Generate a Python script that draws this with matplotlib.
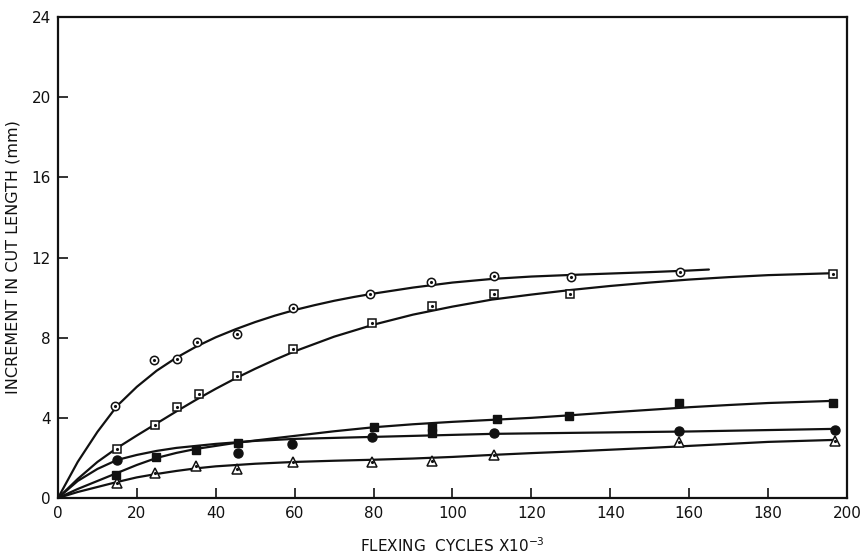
import matplotlib
matplotlib.use("Agg")
import matplotlib.pyplot as plt

# measured points (flexing cycles x10^-3, increment in cut length mm)
circ_x = [14.5, 24.4, 30.1, 35.3, 45.5, 59.7, 79.0, 94.6, 110.5, 130.0, 157.7]
circ_y = [4.6, 6.87, 6.93, 7.77, 8.18, 9.47, 10.2, 10.8, 11.1, 11.05, 11.3]

sq_x = [15.0, 24.5, 30.2, 35.8, 45.4, 59.5, 79.6, 94.8, 110.4, 129.8, 196.5]
sq_y = [2.45, 3.65, 4.53, 5.17, 6.1, 7.43, 8.75, 9.6, 10.2, 10.2, 11.2]

fsq_x = [14.7, 24.9, 35.0, 45.6, 80.0, 94.8, 94.8, 111.3, 129.5, 157.4, 196.5]
fsq_y = [1.15, 2.05, 2.4, 2.75, 3.55, 3.55, 3.25, 3.95, 4.1, 4.75, 4.75]

fci_x = [15.0, 45.7, 59.3, 79.6, 110.5, 157.5, 197.0]
fci_y = [1.9, 2.25, 2.7, 3.05, 3.25, 3.35, 3.4]

tri_x = [15.0, 24.6, 35.0, 45.5, 59.7, 79.6, 94.8, 110.5, 157.5, 197.0]
tri_y = [0.75, 1.25, 1.6, 1.45, 1.8, 1.8, 1.85, 2.15, 2.8, 2.85]

# fitted curves as drawn on the chart
circ_cx = [0, 5, 10, 15, 20, 25, 30, 35, 40, 45, 50, 55, 60, 65, 70, 75, 80, 90, 100, 110, 120, 130, 140, 150, 160, 165]
circ_cy = [0, 1.8, 3.3, 4.6, 5.55, 6.35, 7.0, 7.55, 8.02, 8.42, 8.78, 9.1, 9.38, 9.62, 9.84, 10.03, 10.2, 10.5, 10.75, 10.93, 11.05, 11.13, 11.2, 11.27, 11.35, 11.4]

sq_cx = [0, 5, 10, 15, 20, 25, 30, 35, 40, 45, 50, 55, 60, 70, 80, 90, 100, 110, 120, 130, 140, 150, 160, 170, 180, 197]
sq_cy = [0, 0.95, 1.8, 2.5, 3.12, 3.72, 4.32, 4.9, 5.45, 5.97, 6.45, 6.9, 7.32, 8.05, 8.65, 9.15, 9.55, 9.9, 10.15, 10.38, 10.58, 10.75, 10.9, 11.02, 11.12, 11.22]

fsq_cx = [0, 5, 10, 15, 20, 25, 30, 35, 40, 45, 50, 60, 70, 80, 90, 100, 110, 120, 130, 140, 150, 160, 170, 180, 197]
fsq_cy = [0, 0.45, 0.85, 1.25, 1.65, 2.0, 2.25, 2.45, 2.6, 2.75, 2.87, 3.1, 3.33, 3.53, 3.68, 3.8, 3.9, 4.0, 4.13, 4.27, 4.4, 4.53, 4.64, 4.74, 4.85]

fci_cx = [0, 5, 10, 15, 20, 25, 30, 40, 50, 60, 70, 80, 100, 110, 130, 160, 180, 197]
fci_cy = [0, 0.85, 1.45, 1.9, 2.15, 2.35, 2.5, 2.7, 2.85, 2.95, 3.0, 3.05, 3.15, 3.2, 3.25, 3.32, 3.39, 3.45]

tri_cx = [0, 5, 10, 15, 20, 25, 30, 35, 40, 50, 60, 70, 80, 90, 100, 110, 120, 130, 140, 150, 160, 170, 180, 197]
tri_cy = [0, 0.3, 0.55, 0.8, 1.03, 1.2, 1.35, 1.48, 1.58, 1.71, 1.8, 1.86, 1.91, 1.97, 2.05, 2.15, 2.24, 2.32, 2.41, 2.5, 2.6, 2.7, 2.8, 2.9]

x_ticks = [0, 20, 40, 60, 80, 100, 120, 140, 160, 180, 200]
y_ticks = [0, 4, 8, 12, 16, 20, 24]

INK = '#111111'
plt.rcParams['font.family'] = ['DejaVu Sans']

fig = plt.figure(figsize=(8.64, 5.57), dpi=100)
ax = fig.add_axes([0.0671, 0.1059, 0.9132, 0.8636])

# curves
for cx, cy in [(circ_cx, circ_cy), (sq_cx, sq_cy), (fsq_cx, fsq_cy),
               (fci_cx, fci_cy), (tri_cx, tri_cy)]:
    ax.plot(cx, cy, color=INK, lw=1.6, solid_capstyle='round',
            solid_joinstyle='round', zorder=2)

# open markers with a dot in the middle
open_kw = dict(ls='none', mfc='white', mec=INK, mew=1.1, zorder=4)
ax.plot(circ_x, circ_y, marker='o', ms=6, **open_kw)
ax.plot(sq_x, sq_y, marker='s', ms=5.5, **open_kw)
ax.plot(tri_x, tri_y, marker='^', ms=7, **open_kw)
for xs, ys in [(circ_x, circ_y), (sq_x, sq_y), (tri_x, tri_y)]:
    ax.plot(xs, ys, ls='none', marker='.', ms=2.5, color=INK, zorder=5)

# filled markers
ax.plot(fsq_x, fsq_y, ls='none', marker='s', ms=6, color=INK, zorder=4)
ax.plot(fci_x, fci_y, ls='none', marker='o', ms=6.5, color=INK, zorder=4)

ax.set_xlim(0, 200)
ax.set_ylim(0, 24)
ax.set_xticks(x_ticks)
ax.set_yticks(y_ticks)
ax.tick_params(direction='in', length=7, width=1.2, colors=INK, labelsize=11)
ax.tick_params(axis='x', pad=6)
ax.tick_params(axis='y', pad=5)
for s in ax.spines.values():
    s.set_linewidth(1.6)
    s.set_color(INK)

ax.set_xlabel('FLEXING  CYCLES X10$^{-3}$', fontsize=11, color=INK, labelpad=11)
ax.set_ylabel('INCREMENT IN CUT LENGTH (mm)', fontsize=11.5, color=INK, labelpad=8)

fig.savefig('out.png', dpi=100, facecolor='white')
